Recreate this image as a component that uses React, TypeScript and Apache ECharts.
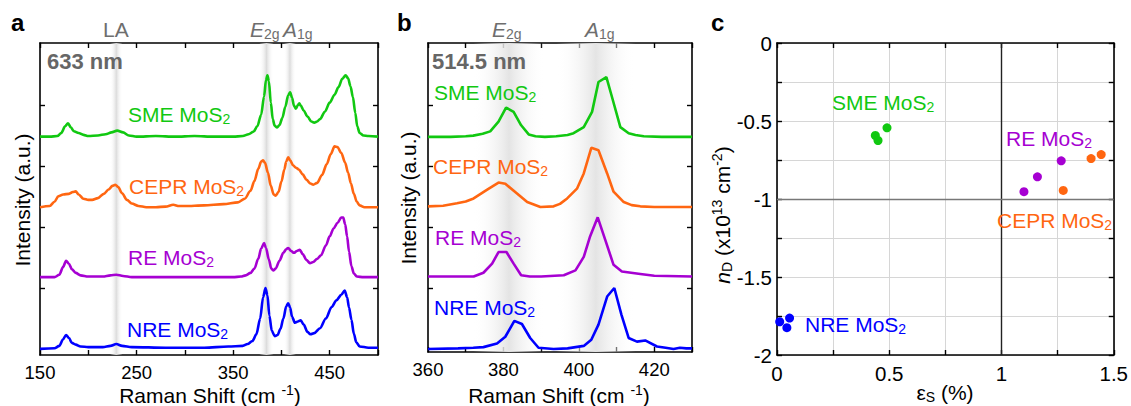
import React, { useEffect, useRef } from 'react';
import * as echarts from 'echarts';

const FONT = '"Liberation Sans", Arial, Helvetica, sans-serif';
const C_SME = '#11c811';
const C_CEPR = '#ff6611';
const C_RE = '#a600d2';
const C_NRE = '#0000ff';

// ---------- Panel a (633 nm) ----------
const X_LABELS_A = [150, 250, 350, 450];
const BANDS_A = [[222.5, 235.5], [377, 392], [402.5, 415]];
const SME_A = [
  [150, 3.49], [160, 3.49], [168, 3.5], [172, 3.55], [176, 3.66], [179, 3.71], [182, 3.64], [185, 3.58],
  [190, 3.55], [195, 3.52], [200, 3.5], [210, 3.51], [218, 3.53], [224, 3.56], [230, 3.59], [236, 3.56],
  [242, 3.51], [250, 3.49], [270, 3.5], [290, 3.49], [310, 3.5], [330, 3.49], [350, 3.49], [360, 3.5],
  [366, 3.53], [371, 3.57], [375, 3.66], [379, 3.85], [382, 4.15], [384, 4.42], [385.5, 4.5], [387, 4.4],
  [389, 4.05], [391, 3.78], [393, 3.67], [395.5, 3.64], [398, 3.68], [401, 3.8], [404, 3.98], [407, 4.17],
  [409, 4.22], [411, 4.13], [413, 4.0], [415, 3.95], [417, 4.01], [418.5, 4.04], [420, 4.0], [423, 3.92],
  [427, 3.82], [431, 3.74], [434, 3.72], [437, 3.74], [440, 3.78], [445, 3.9], [450, 4.05], [455, 4.18],
  [459, 4.3], [463, 4.44], [466.5, 4.5], [469, 4.45], [471.5, 4.32], [474, 4.14], [476.5, 3.88],
  [478.5, 3.66], [481, 3.55], [485, 3.51], [490, 3.5], [500, 3.49],
];
const CEPR_A = [
  [150, 2.33], [160, 2.35], [165, 2.42], [169, 2.51], [174, 2.54], [180, 2.55], [184, 2.58], [187, 2.59],
  [190, 2.54], [195, 2.47], [200, 2.45], [204, 2.45], [210, 2.48], [216, 2.55], [221, 2.62], [225, 2.68],
  [228, 2.7], [231, 2.66], [235, 2.56], [240, 2.45], [245, 2.39], [252, 2.35], [260, 2.33], [270, 2.33],
  [280, 2.34], [288, 2.37], [294, 2.35], [300, 2.35], [320, 2.36], [340, 2.38], [355, 2.41], [362, 2.47],
  [368, 2.6], [372, 2.76], [376, 2.96], [379, 3.08], [381, 3.1], [383, 3.06], [386, 2.9], [389, 2.68],
  [392, 2.54], [394, 2.52], [397, 2.58], [400, 2.75], [403, 2.95], [405, 3.08], [407, 3.15], [409, 3.1],
  [412, 3.02], [415, 2.98], [418, 2.95], [422, 2.87], [426, 2.78], [430, 2.72], [433, 2.7], [437, 2.73],
  [442, 2.86], [447, 3.04], [451, 3.2], [455, 3.33], [458, 3.32], [462, 3.22], [466, 3.06], [469, 2.9],
  [472, 2.72], [475, 2.55], [478, 2.42], [481, 2.36], [486, 2.33], [500, 2.33],
];
const RE_A = [
  [150, 1.18], [165, 1.18], [170, 1.22], [174, 1.35], [177, 1.45], [180, 1.4], [183, 1.31], [187, 1.25],
  [192, 1.21], [200, 1.19], [215, 1.19], [223, 1.21], [229, 1.22], [236, 1.2], [245, 1.18], [300, 1.18],
  [350, 1.18], [358, 1.19], [363, 1.21], [368, 1.25], [372, 1.32], [376, 1.48], [379, 1.65], [382, 1.74],
  [384, 1.66], [387, 1.47], [389.5, 1.32], [391.5, 1.29], [394, 1.32], [398, 1.45], [402, 1.58],
  [405, 1.64], [407, 1.66], [410, 1.61], [413, 1.58], [416, 1.61], [419, 1.63], [422, 1.56], [426, 1.46],
  [429.5, 1.41], [433, 1.43], [437, 1.48], [441, 1.54], [446, 1.7], [450, 1.85], [454, 1.98], [458, 2.07],
  [462, 2.16], [464, 2.16], [466, 2.05], [468, 1.85], [470, 1.6], [472.5, 1.36], [475, 1.24], [478, 1.19],
  [485, 1.18], [500, 1.18],
];
const NRE_A = [
  [150, 0.0], [165, 0.01], [170, 0.05], [174, 0.16], [177, 0.23], [180, 0.18], [183, 0.1], [187, 0.07],
  [192, 0.04], [200, 0.03], [215, 0.03], [223, 0.05], [229, 0.08], [235, 0.05], [245, 0.03], [280, 0.02],
  [320, 0.02], [345, 0.04], [360, 0.05], [365, 0.08], [370, 0.13], [374, 0.24], [378, 0.5], [381, 0.85],
  [383.5, 1.0], [385.5, 0.88], [387.5, 0.55], [390, 0.3], [393, 0.21], [396, 0.23], [399, 0.33],
  [402, 0.5], [405, 0.7], [407, 0.75], [409, 0.68], [411, 0.53], [414, 0.43], [417, 0.45], [420, 0.47],
  [423, 0.4], [427, 0.28], [430, 0.24], [434, 0.26], [440, 0.34], [446, 0.5], [452, 0.69], [457, 0.8],
  [462, 0.89], [465.5, 0.96], [468, 0.85], [470, 0.68], [472.5, 0.48], [475, 0.25], [477.5, 0.11],
  [481, 0.04], [490, 0.02], [500, 0.02],
];

// ---------- Panel b (514.5 nm) ----------
const X_LABELS_B = [360, 380, 400, 420];
const BANDS_B = [[372, 391], [394, 415]];
const SME_B = [
  [360, 3.48], [366, 3.48], [370, 3.49], [372, 3.5], [374.5, 3.53], [376.5, 3.57], [378.7, 3.73],
  [380.7, 3.96], [382.7, 3.89], [384.7, 3.67], [386.7, 3.52], [388.5, 3.49], [391, 3.48], [394, 3.49],
  [397, 3.51], [398.6, 3.54], [401.3, 3.64], [403.5, 3.89], [405.2, 4.38], [407.3, 4.46], [408.8, 4.13],
  [411, 3.64], [413.2, 3.54], [415, 3.51], [417.2, 3.49], [422, 3.48], [430, 3.48],
];
const CEPR_B = [
  [360, 2.34], [364, 2.35], [367.7, 2.39], [370, 2.42], [372.1, 2.47], [375.6, 2.61], [378.7, 2.73],
  [380.5, 2.71], [383.6, 2.55], [386.3, 2.41], [389.8, 2.33], [393.3, 2.34], [395, 2.38], [396.9, 2.47],
  [399.5, 2.63], [401.3, 2.88], [403.3, 3.3], [405.2, 3.26], [407.5, 2.88], [409.2, 2.58], [411.9, 2.41],
  [414, 2.36], [416.3, 2.34], [420, 2.33], [430, 2.33],
];
const RE_B = [
  [360, 1.19], [372.1, 1.19], [374.7, 1.25], [377, 1.4], [378.7, 1.59], [380.8, 1.59], [382.7, 1.4],
  [384.7, 1.21], [387, 1.19], [390, 1.19], [396, 1.21], [399.1, 1.29], [401.3, 1.51], [403, 1.85],
  [405, 2.16], [407, 1.79], [409.2, 1.38], [411.4, 1.27], [416.3, 1.23], [420, 1.2], [430, 1.19],
];
const NRE_B = [
  [360, 0.0], [368, 0.01], [372, 0.02], [374.7, 0.03], [378.3, 0.09], [380.5, 0.2], [382.9, 0.46],
  [384.9, 0.41], [387.1, 0.18], [389.3, 0.02], [393.3, 0.0], [397, 0.01], [401.3, 0.05], [403.3, 0.15],
  [405.2, 0.4], [407.5, 0.86], [409.4, 1.0], [411.3, 0.56], [413.2, 0.18], [415.4, 0.12], [417.6, 0.14],
  [420.7, 0.04], [423, 0.02], [425.1, 0.0], [426.8, 0.02], [428.5, 0.01], [430, 0.01],
];

// ---------- Panel c (strain vs doping) ----------
const X_LABELS_C = [0, 0.5, 1, 1.5];
const Y_LABELS_C = [0, -0.5, -1, -1.5, -2];
const SME_C = [[0.438, -0.593], [0.45, -0.625], [0.49, -0.544]];
const RE_C = [[1.1, -0.953], [1.16, -0.858], [1.266, -0.755]];
const CEPR_C = [[1.275, -0.945], [1.399, -0.741], [1.444, -0.715]];
const NRE_C = [[0.012, -1.787], [0.044, -1.825], [0.056, -1.763]];

const Y_TICKS_AB = [1, 2, 3, 4];
const A_YMIN = -0.1, A_YMAX = 5.03;
const B_YMIN = -0.05, B_YMAX = 5.02;

const has = (arr: number[], v: number) => arr.some((a) => Math.abs(a - v) < 1e-6);

const axisLine = { show: true, onZero: false, lineStyle: { color: '#000', width: 1.6 } };
const tick = { show: true, inside: true, length: 5, lineStyle: { color: '#000', width: 1.4 } };

function xAx(gridIndex: number, pos: 'top' | 'bottom', min: number, max: number, interval: number, labels: number[] | null, fs: number) {
  return {
    type: 'value', gridIndex, position: pos, min, max, interval,
    axisLine, axisTick: tick,
    axisLabel: labels
      ? { show: true, margin: 8, fontSize: fs, color: '#000', fontFamily: FONT, showMinLabel: true, showMaxLabel: true,
          formatter: (v: number) => (has(labels, v) ? String(v) : '') }
      : { show: false },
    splitLine: { show: false },
  };
}

function yAxAB(gridIndex: number, pos: 'left' | 'right', min: number, max: number) {
  return {
    type: 'value', gridIndex, position: pos, min, max,
    axisLine, axisTick: { ...tick, customValues: Y_TICKS_AB },
    axisLabel: { show: false }, splitLine: { show: false },
  };
}

function bandSeries(xi: number, yi: number, bands: number[][], ymin: number, ymax: number, gray: string) {
  return {
    type: 'custom', xAxisIndex: xi, yAxisIndex: yi, silent: true, z: 1,
    data: bands,
    renderItem: (params: any, api: any) => {
      const p0 = api.coord([api.value(0), ymax]);
      const p1 = api.coord([api.value(1), ymin]);
      return {
        type: 'rect',
        shape: { x: p0[0], y: p0[1], width: p1[0] - p0[0], height: p1[1] - p0[1] },
        style: {
          fill: new echarts.graphic.LinearGradient(0, 0, 1, 0, [
            { offset: 0, color: 'rgba(255,255,255,0)' },
            { offset: 0.5, color: gray },
            { offset: 1, color: 'rgba(255,255,255,0)' },
          ]),
        },
      };
    },
  };
}

function lineSeries(xi: number, yi: number, data: number[][], color: string, smooth: number | boolean) {
  return {
    type: 'line', xAxisIndex: xi, yAxisIndex: yi, data, showSymbol: false, smooth, smoothMonotone: 'x',
    lineStyle: { color, width: 2.6 }, itemStyle: { color }, z: 3, silent: true,
  };
}

function scatterSeries(data: number[][], color: string) {
  return {
    type: 'scatter', xAxisIndex: 4, yAxisIndex: 4, data, symbolSize: 9,
    itemStyle: { color, opacity: 1 }, z: 4, silent: true,
  };
}

const rich = (color: string, size = 21) => ({
  n: { fontSize: size, fontFamily: FONT, fill: color, color, lineHeight: 24 },
  i: { fontSize: size, fontFamily: FONT, fontStyle: 'italic', fill: color, color, lineHeight: 24 },
  s: { fontSize: 14, fontFamily: FONT, fill: color, color, lineHeight: 12, verticalAlign: 'bottom' },
  p: { fontSize: 14, fontFamily: FONT, fill: color, color, lineHeight: 12, verticalAlign: 'top' },
});

function txt(x: number, y: number, text: string, color: string, opts: any = {}) {
  return {
    type: 'text', x, y, rotation: opts.rotation || 0, silent: true, z: 10,
    style: {
      text, rich: rich(color, opts.size || 21), fill: color,
      font: `${opts.weight || 'normal'} ${opts.size || 21}px ${FONT}`,
      align: opts.align || 'left', verticalAlign: 'middle',
    },
  };
}

function plain(x: number, y: number, text: string, color: string, size: number, weight: string) {
  return {
    type: 'text', x, y, silent: true, z: 10,
    style: { text, fill: color, fontSize: size, fontWeight: weight, fontFamily: FONT, align: 'left', verticalAlign: 'middle' },
  };
}

const mos = (name: string) => `{n|${name} MoS}{s|2}`;

export default function App() {
  const ref = useRef<HTMLDivElement>(null);
  useEffect(() => {
    if (!ref.current) return;
    const chart = echarts.init(ref.current, undefined, { renderer: 'svg' });
    const option: any = {
      animation: false,
      backgroundColor: '#fff',
      grid: [
        { left: 40, top: 43, width: 338, height: 312 },
        { left: 428, top: 43, width: 264, height: 309 },
        { left: 777, top: 43, width: 339, height: 312 },
      ],
      xAxis: [
        xAx(0, 'bottom', 150, 500, 50, X_LABELS_A, 18.5),
        xAx(0, 'top', 150, 500, 50, null, 18),
        xAx(1, 'bottom', 360, 430, 10, X_LABELS_B, 18.5),
        xAx(1, 'top', 360, 430, 10, null, 18),
        { ...xAx(2, 'bottom', 0, 1.5, 0.25, X_LABELS_C, 20.5), splitLine: { show: true, lineStyle: { color: '#d6d6d6', width: 1 } } },
        xAx(2, 'top', 0, 1.5, 0.25, null, 20),
      ],
      yAxis: [
        yAxAB(0, 'left', A_YMIN, A_YMAX),
        yAxAB(0, 'right', A_YMIN, A_YMAX),
        yAxAB(1, 'left', B_YMIN, B_YMAX),
        yAxAB(1, 'right', B_YMIN, B_YMAX),
        {
          type: 'value', gridIndex: 2, position: 'left', min: -2, max: 0, interval: 0.25,
          axisLine, axisTick: tick,
          axisLabel: { show: true, margin: 5, fontSize: 20.5, color: '#000', fontFamily: FONT, showMinLabel: true, showMaxLabel: true,
            formatter: (v: number) => (has(Y_LABELS_C, v) ? String(v) : '') },
          splitLine: { show: true, lineStyle: { color: '#d6d6d6', width: 1 } },
        },
        {
          type: 'value', gridIndex: 2, position: 'right', min: -2, max: 0, interval: 0.25,
          axisLine, axisTick: tick, axisLabel: { show: false }, splitLine: { show: false },
        },
      ],
      series: [
        bandSeries(0, 0, BANDS_A, A_YMIN, A_YMAX, 'rgb(220,220,220)'),
        lineSeries(0, 0, SME_A, C_SME, 0.3),
        lineSeries(0, 0, CEPR_A, C_CEPR, 0.3),
        lineSeries(0, 0, RE_A, C_RE, 0.3),
        lineSeries(0, 0, NRE_A, C_NRE, 0.3),
        bandSeries(2, 2, BANDS_B, B_YMIN, B_YMAX, 'rgb(228,228,228)'),
        lineSeries(2, 2, SME_B, C_SME, false),
        lineSeries(2, 2, CEPR_B, C_CEPR, false),
        lineSeries(2, 2, RE_B, C_RE, false),
        lineSeries(2, 2, NRE_B, C_NRE, false),
        {
          type: 'line', xAxisIndex: 4, yAxisIndex: 4, data: [], silent: true, z: 2,
          markLine: {
            silent: true, symbol: 'none', label: { show: false },
            data: [
              { xAxis: 1, lineStyle: { color: '#222', width: 1.4, type: 'solid' } },
              { yAxis: -1, lineStyle: { color: '#777', width: 1.4, type: 'solid' } },
            ],
          },
        },
        scatterSeries(SME_C, C_SME),
        scatterSeries(RE_C, C_RE),
        scatterSeries(CEPR_C, C_CEPR),
        scatterSeries(NRE_C, C_NRE),
      ],
      graphic: [
        plain(11, 22, 'a', '#000', 24, 'bold'),
        plain(397, 22, 'b', '#000', 24, 'bold'),
        plain(711, 22, 'c', '#000', 24, 'bold'),
        plain(47, 61, '633 nm', '#666', 22, 'bold'),
        plain(432, 61, '514.5 nm', '#666', 22, 'bold'),
        plain(103, 29, 'LA', '#6e6e6e', 21, 'normal'),
        txt(250, 29, '{i|E}{s|2g}', '#6e6e6e'),
        txt(283, 29, '{i|A}{s|1g}', '#6e6e6e'),
        txt(492, 29, '{i|E}{s|2g}', '#6e6e6e'),
        txt(585, 29, '{i|A}{s|1g}', '#6e6e6e'),
        // panel a labels
        txt(128, 114, mos('SME'), C_SME),
        txt(129, 186, mos('CEPR'), C_CEPR),
        txt(128, 257, mos('RE'), C_RE),
        txt(127, 329, mos('NRE'), C_NRE),
        // panel b labels
        txt(434, 92, mos('SME'), C_SME),
        txt(433, 166, mos('CEPR'), C_CEPR),
        txt(435, 237, mos('RE'), C_RE),
        txt(434, 307, mos('NRE'), C_NRE),
        // panel c labels
        txt(832, 102, mos('SME'), C_SME),
        txt(1006, 138, mos('RE'), C_RE),
        txt(997, 220, mos('CEPR'), C_CEPR),
        txt(805, 324, mos('NRE'), C_NRE),
        // axis titles
        txt(22, 200, '{n|Intensity (a.u.)}', '#000', { rotation: Math.PI / 2, align: 'center' }),
        txt(408, 198, '{n|Intensity (a.u.)}', '#000', { rotation: Math.PI / 2, align: 'center' }),
        txt(210, 395, '{n|Raman Shift (cm }{p|-1}{n|)}', '#000', { align: 'center' }),
        txt(559, 395, '{n|Raman Shift (cm }{p|-1}{n|)}', '#000', { align: 'center' }),
        txt(945, 392, '{n|ε}{s|S}{n| (%)}', '#000', { align: 'center' }),
        txt(722, 215, '{i|n}{s|D}{n| (x10}{p|13}{n| cm}{p|-2}{n|)}', '#000', { rotation: Math.PI / 2, align: 'center' }),
      ],
    };
    chart.setOption(option);
    return () => chart.dispose();
  }, []);
  return <div ref={ref} style={{ position: 'fixed', left: 0, top: 0, width: 1131, height: 406, background: '#fff' }} />;
}
